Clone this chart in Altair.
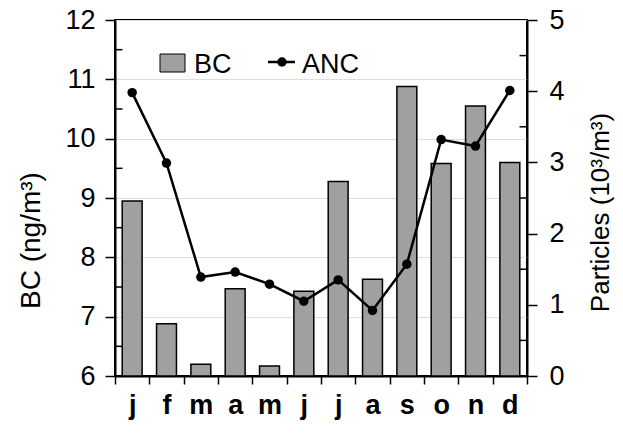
import altair as alt
import pandas as pd

months = ["j", "f", "m", "a", "m", "j", "j", "a", "s", "o", "n", "d"]
bc = [8.95, 6.88, 6.2, 7.47, 6.17, 7.43, 9.28, 7.63, 10.88, 9.58, 10.55, 9.6]
anc = [3.98, 2.99, 1.39, 1.46, 1.29, 1.05, 1.35, 0.92, 1.57, 3.32, 3.23, 4.01]
bc_ticks = [6, 7, 8, 9, 10, 11, 12]
bc_minor = [6.5, 7.5, 8.5, 9.5, 10.5, 11.5]
p_ticks = [0, 1, 2, 3, 4, 5]
p_minor = [0.5, 1.5, 2.5, 3.5, 4.5]

df = pd.DataFrame({"idx": list(range(len(months))), "bc": bc, "anc": anc})

FONT = "Liberation Sans"
W, H = 412, 356

label_expr = "[" + ",".join("'%s'" % m for m in months) + "][datum.value]"

x = alt.X(
    "idx:O",
    scale=alt.Scale(paddingInner=0, paddingOuter=0),
    axis=alt.Axis(
        title=None, labelExpr=label_expr, labelAngle=0, tickBand="extent",
        labelFont=FONT, labelFontSize=27, labelFontWeight="bold", labelColor="black",
        labelPadding=8, tickSize=8, tickColor="black", domainColor="black",
        tickWidth=1.5, domainWidth=2,
    ),
)

left_axis = alt.Axis(
    values=bc_ticks, title="BC (ng/m³)", orient="left",
    labelFont=FONT, labelFontSize=27, labelColor="black", labelPadding=10,
    tickSize=10, tickWidth=1.5, tickColor="black", domainColor="black", domainWidth=2,
    titleFont=FONT, titleFontSize=28, titleFontWeight="normal", titleColor="black",
    titleX=-84, titleY=220, titleBaseline="middle", titleAngle=-90,
)
right_axis = alt.Axis(
    values=p_ticks, title="Particles (10³/m³)", orient="right",
    labelFont=FONT, labelFontSize=27, labelColor="black", labelPadding=12,
    tickSize=10, tickWidth=1.5, tickColor="black", domainColor="black", domainWidth=2,
    titleFont=FONT, titleFontSize=26, titleFontWeight="normal", titleColor="black",
    titleX=73, titleY=192, titleBaseline="middle", titleAngle=-90,
)
left_scale = alt.Scale(domain=[6, 12], zero=False, nice=False)
right_scale = alt.Scale(domain=[0, 5], zero=False, nice=False)

base = alt.Chart(df)

bars = base.mark_bar(
    fill="#a0a0a0", stroke="black", strokeWidth=1.5, width=alt.RelativeBandSize(0.58)
).encode(
    x=x,
    y=alt.Y("bc:Q", scale=left_scale, axis=left_axis),
    y2=alt.datum(6),
)

minor_left = alt.Chart(pd.DataFrame({"bc": bc_minor})).mark_tick(
    color="black", thickness=1.5, size=7, opacity=1
).encode(y=alt.Y("bc:Q", scale=left_scale, axis=left_axis), x=alt.value(4))

line = base.mark_line(color="black", strokeWidth=2.5).encode(
    x=x,
    y=alt.Y("anc:Q", scale=right_scale, axis=right_axis),
)
points = base.mark_circle(color="black", size=90, opacity=1).encode(
    x=x, y=alt.Y("anc:Q", scale=right_scale, axis=right_axis))

minor_right = alt.Chart(pd.DataFrame({"anc": p_minor})).mark_tick(
    color="black", thickness=1.5, size=7, opacity=1
).encode(y=alt.Y("anc:Q", scale=right_scale, axis=right_axis), x=alt.value(W - 4))

left = alt.layer(bars, minor_left)
right = alt.layer(line, points, minor_right)

# legend
leg = pd.DataFrame({"k": [0]})
lg = alt.Chart(leg)
sw = lg.mark_rect(fill="#a0a0a0", stroke="black", strokeWidth=1).encode(
    x=alt.value(45), x2=alt.value(70), y=alt.value(34), y2=alt.value(52))
t1 = lg.mark_text(text="BC", font=FONT, fontSize=27, align="left", baseline="alphabetic", color="black").encode(
    x=alt.value(79), y=alt.value(53))
ln = lg.mark_rule(color="black", strokeWidth=2.5).encode(
    x=alt.value(153), x2=alt.value(180), y=alt.value(42))
dt = lg.mark_circle(color="black", size=90, opacity=1).encode(x=alt.value(167), y=alt.value(42))
t2 = lg.mark_text(text="ANC", font=FONT, fontSize=27, align="left", baseline="alphabetic", color="black").encode(
    x=alt.value(187), y=alt.value(53))

chart = alt.layer(left, right, sw, t1, ln, dt, t2).resolve_scale(y="independent").properties(
    width=W, height=H,
    autosize=alt.AutoSizeParams(type="none"),
    padding={"left": 115, "top": 20, "right": 96, "bottom": 59},
).configure_view(stroke="black", strokeWidth=2)

chart.save("out.html", embed_options={"renderer": "svg", "actions": False})
